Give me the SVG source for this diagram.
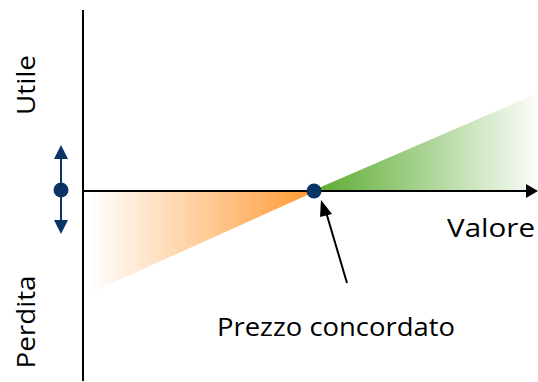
<svg xmlns="http://www.w3.org/2000/svg" width="538" height="382" viewBox="0 0 538 382">
<style>
.lbl{font-family:"Open Sans","Liberation Sans",sans-serif;font-size:25px;fill:#000}
.ax{stroke:#000;stroke-width:2;fill:none}
.navy{fill:#0a3466}
</style>
<defs>
<linearGradient id="gO" x1="90" y1="0" x2="314" y2="0" gradientUnits="userSpaceOnUse">
<stop offset="0" stop-color="#ff9a33" stop-opacity="0"/>
<stop offset="1" stop-color="#ff9a33" stop-opacity="1"/>
</linearGradient>
<linearGradient id="gG" x1="314" y1="0" x2="538" y2="0" gradientUnits="userSpaceOnUse">
<stop offset="0" stop-color="#5aab2e" stop-opacity="1"/>
<stop offset="1" stop-color="#5aab2e" stop-opacity="0.02"/>
</linearGradient>
</defs>
<g id="areas">
<polygon points="90,192 314,192 90,293" fill="url(#gO)"/>
<polygon points="314,190 538,93 538,190" fill="url(#gG)"/>
</g>
<g id="axes">
<line class="ax" x1="83" y1="10" x2="83" y2="381"/>
<line class="ax" x1="83" y1="191" x2="528" y2="191"/>
<path d="M526,184 L538,191 L526,198 Z" fill="#000"/>
</g>
<g id="updown">
<line x1="61" y1="156" x2="61" y2="224" stroke="#0a3466" stroke-width="2"/>
<path class="navy" d="M61,145 L68,159 L54,159 Z"/>
<path class="navy" d="M61,234 L68,220 L54,220 Z"/>
<circle class="navy" cx="61" cy="190" r="7.5"/>
</g>
<g id="point">
<circle class="navy" cx="314" cy="191" r="7.5"/>
</g>
<g id="connectors">
<line x1="347" y1="283" x2="326" y2="212" stroke="#000" stroke-width="2"/>
<path d="M321,200 L332,214 L320,217 Z" fill="#000"/>
</g>
<g id="labels">
<text class="lbl" transform="translate(35,85) rotate(-90)" text-anchor="middle" textLength="60" lengthAdjust="spacingAndGlyphs">Utile</text>
<text class="lbl" transform="translate(35,322) rotate(-90)" text-anchor="middle" textLength="93" lengthAdjust="spacingAndGlyphs">Perdita</text>
<text class="lbl" x="491" y="237" text-anchor="middle" textLength="88" lengthAdjust="spacingAndGlyphs">Valore</text>
<text class="lbl" x="336" y="336" text-anchor="middle" textLength="238" lengthAdjust="spacingAndGlyphs">Prezzo concordato</text>
</g>
</svg>
